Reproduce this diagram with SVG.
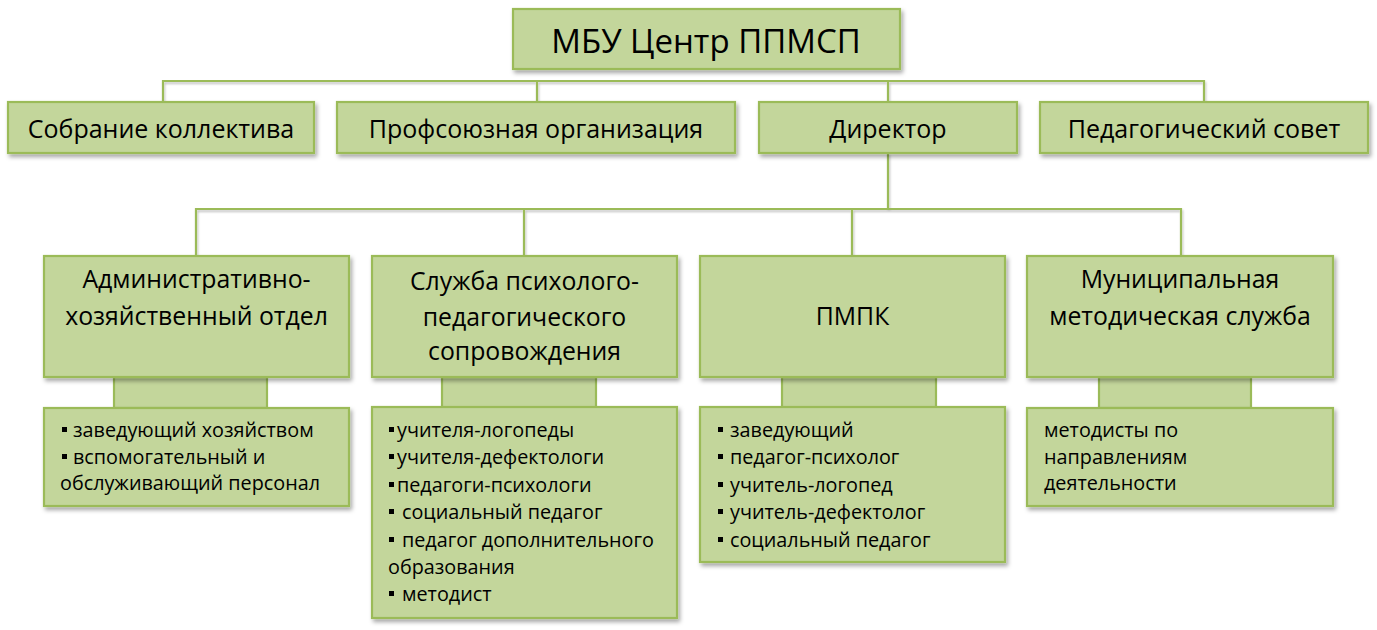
<svg xmlns="http://www.w3.org/2000/svg" width="1377" height="630" viewBox="0 0 1377 630">
<defs>
<filter id="sh" x="-10%" y="-10%" width="130%" height="140%">
<feDropShadow dx="2" dy="3" stdDeviation="2" flood-color="#000" flood-opacity="0.35"/>
</filter>
<filter id="lsh" x="-5%" y="-50%" width="110%" height="200%">
<feDropShadow dx="1" dy="2" stdDeviation="1.2" flood-color="#000" flood-opacity="0.25"/>
</filter>
</defs>
<style>
.box{fill:#C3D69B;stroke:#9BBB59;stroke-width:2.2}
.stub{fill:#C3D69B;stroke:#9BBB59;stroke-width:2.2}
.ln{fill:none;stroke:#9BBB59;stroke-width:2.2}
text{font-family:"Open Sans","Liberation Sans",sans-serif;fill:#000}
.t1{font-size:33px;text-anchor:middle}
.t2{font-size:25px;text-anchor:middle}
.t3{font-size:24.8px;text-anchor:middle}
.t4{font-size:19.8px}
.b{fill:#000}
</style>
<rect width="1377" height="630" fill="#fff"/>
<g id="connectors" filter="url(#lsh)">
<path class="ln" d="M163 102V81H1204V102M537 81V102M888 81V102"/>
<path class="ln" d="M888 153V209M196 256V209H1181V256M524 209V256M852 209V256"/>
</g>
<g id="stubs">
<rect class="stub" x="114" y="377" width="153" height="31"/>
<rect class="stub" x="442" y="377" width="154" height="31"/>
<rect class="stub" x="782" y="377" width="154" height="31"/>
<rect class="stub" x="1099" y="377" width="152" height="31"/>
</g>
<g id="n-top"><rect class="box" filter="url(#sh)" x="513" y="9" width="387" height="60"/><text class="t1" x="706" y="53">МБУ Центр ППМСП</text></g>
<g id="n-sobr"><rect class="box" filter="url(#sh)" x="8" y="102" width="306" height="51"/><text class="t2" x="161" y="138">Собрание коллектива</text></g>
<g id="n-prof"><rect class="box" filter="url(#sh)" x="337" y="102" width="398" height="51"/><text class="t2" x="536" y="138">Профсоюзная организация</text></g>
<g id="n-dir"><rect class="box" filter="url(#sh)" x="759" y="102" width="258" height="51"/><text class="t2" x="888" y="138">Директор</text></g>
<g id="n-ped"><rect class="box" filter="url(#sh)" x="1040" y="102" width="328" height="51"/><text class="t2" x="1204" y="138">Педагогический совет</text></g>
<g id="n-adm"><rect class="box" filter="url(#sh)" x="44" y="256" width="305" height="121"/><text class="t3" x="196.5" y="288">Административно-</text><text class="t3" x="196.5" y="325">хозяйственный отдел</text></g>
<g id="n-sl"><rect class="box" filter="url(#sh)" x="372" y="256" width="305" height="121"/><text class="t3" x="524.5" y="290">Служба психолого-</text><text class="t3" x="524.5" y="326">педагогического</text><text class="t3" x="524.5" y="360">сопровождения</text></g>
<g id="n-pmpk"><rect class="box" filter="url(#sh)" x="700" y="256" width="305" height="121"/><text class="t3" x="852.5" y="325">ПМПК</text></g>
<g id="n-mun"><rect class="box" filter="url(#sh)" x="1027" y="256" width="306" height="121"/><text class="t3" x="1180" y="288">Муниципальная</text><text class="t3" x="1180" y="325">методическая служба</text></g>
<g id="l-adm"><rect class="box" filter="url(#sh)" x="44" y="408" width="305" height="98"/>
<rect class="b" x="62" y="427" width="5" height="5"/><text class="t4" x="73" y="437">заведующий хозяйством</text>
<rect class="b" x="62" y="454" width="5" height="5"/><text class="t4" x="73" y="464">вспомогательный и</text>
<text class="t4" x="60" y="490">обслуживающий персонал</text></g>
<g id="l-sl"><rect class="box" filter="url(#sh)" x="372" y="407" width="305" height="211"/>
<rect class="b" x="389" y="427" width="5" height="5"/><text class="t4" x="397" y="437">учителя-логопеды</text>
<rect class="b" x="389" y="454" width="5" height="5"/><text class="t4" x="397" y="464">учителя-дефектологи</text>
<rect class="b" x="389" y="482" width="5" height="5"/><text class="t4" x="397" y="492">педагоги-психологи</text>
<rect class="b" x="389" y="509" width="5" height="5"/><text class="t4" x="402" y="519">социальный педагог</text>
<rect class="b" x="389" y="537" width="5" height="5"/><text class="t4" x="402" y="547">педагог дополнительного</text>
<text class="t4" x="388" y="574">образования</text>
<rect class="b" x="389" y="591" width="5" height="5"/><text class="t4" x="402" y="601">методист</text></g>
<g id="l-pmpk"><rect class="box" filter="url(#sh)" x="700" y="407" width="305" height="155"/>
<rect class="b" x="718" y="427" width="5" height="5"/><text class="t4" x="730" y="437">заведующий</text>
<rect class="b" x="718" y="454" width="5" height="5"/><text class="t4" x="730" y="464">педагог-психолог</text>
<rect class="b" x="718" y="482" width="5" height="5"/><text class="t4" x="730" y="492">учитель-логопед</text>
<rect class="b" x="718" y="509" width="5" height="5"/><text class="t4" x="730" y="519">учитель-дефектолог</text>
<rect class="b" x="718" y="537" width="5" height="5"/><text class="t4" x="730" y="547">социальный педагог</text></g>
<g id="l-mun"><rect class="box" filter="url(#sh)" x="1027" y="408" width="306" height="98"/>
<text class="t4" x="1044" y="437">методисты по</text>
<text class="t4" x="1044" y="464">направлениям</text>
<text class="t4" x="1044" y="490">деятельности</text></g>
</svg>
